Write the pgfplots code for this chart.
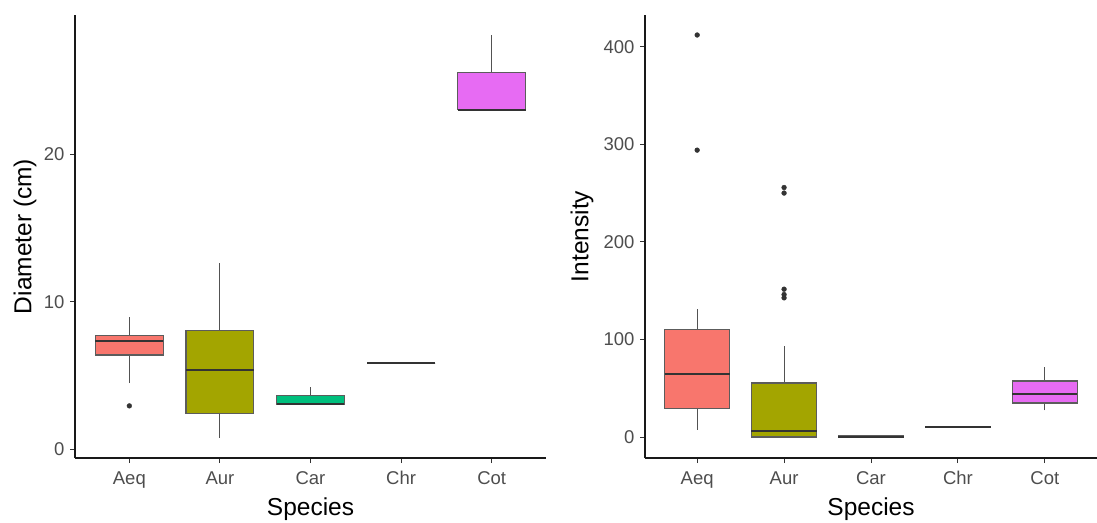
\documentclass[border=0pt]{standalone}
\usepackage{pgfplots}
\pgfplotsset{compat=1.18}
\usepackage{fontspec}
\setmainfont{Liberation Sans}
\definecolor{aeq}{HTML}{F8766D}
\definecolor{aur}{HTML}{A3A500}
\definecolor{car}{HTML}{00BF7D}
\definecolor{chr}{HTML}{00B0F6}
\definecolor{cot}{HTML}{E76BF3}
\definecolor{edge}{HTML}{333333}
\definecolor{ticktext}{HTML}{4D4D4D}
\pgfplotsset{
  ggbox/.style={
    scale only axis,
    anchor=south west,
    axis lines*=left,
    axis line style={line width=1.1pt, black!90, -},
    tick align=outside,
    major tick length=5pt,
    major tick style={line width=1pt, draw=edge},
    xmin=0.4, xmax=5.6,
    xtick={1,2,3,4,5},
    xticklabels={Aeq,Aur,Car,Chr,Cot},
    ticklabel style={font=\fontsize{18.5}{20}\selectfont, text=ticktext},
    xticklabel style={yshift=-5pt},
    yticklabel style={xshift=-2pt},
    /pgf/number format/assume math mode=true,
    xlabel={Species},
    every axis x label/.style={at={(axis description cs:0.5,0)}, anchor=center, yshift=-51pt, font=\fontsize{24.5}{28}\selectfont},
    no markers,
  },
  ylab/.style={every axis y label/.style={at={(axis description cs:0,0.5)}, rotate=90, anchor=center, yshift=#1, font=\fontsize{24.5}{28}\selectfont}},
  whisk/.style={line width=0.9pt, edge!85},
  outl/.style={only marks, mark=*, mark size=2.4pt, mark options={fill=edge, draw=edge}},
}
% \gbox{colour}{left}{centre}{right}{lower whisker}{lower quartile}{median}{upper quartile}{upper whisker}
\newcommand{\gbox}[9]{%
  \addplot[whisk] coordinates {(#3,#5) (#3,#6)};
  \addplot[whisk] coordinates {(#3,#8) (#3,#9)};
  \addplot[fill=#1, draw=edge!80, line width=1.2pt] coordinates {(#2,#6) (#4,#6) (#4,#8) (#2,#8)} -- cycle;
  \addplot[edge, line width=2pt] coordinates {(#2,#7) (#4,#7)};
}
\begin{document}
\begin{tikzpicture}
\useasboundingbox (0,0) rectangle (1097pt,522pt);
\begin{axis}[ggbox,
  at={(75pt,64pt)}, width=471pt, height=443pt,
  ymin=-0.57, ymax=29.43,
  ytick={0,10,20},
  ylabel={Diameter (cm)}, ylab=50pt,
]
\gbox{aeq}{0.625}{1}{1.375}{4.5}{6.4}{7.37}{7.75}{8.97}
\addplot[outl] coordinates {(1,2.96)};
\gbox{aur}{1.625}{2}{2.375}{0.79}{2.44}{5.38}{8.07}{12.66}
\gbox{car}{2.625}{3}{3.375}{3.05}{3.05}{3.12}{3.64}{4.23}
\gbox{chr}{3.625}{4}{4.375}{5.83}{5.83}{5.83}{5.83}{5.83}
\gbox{cot}{4.625}{5}{5.375}{23.03}{23.03}{23.03}{25.56}{28.07}
\end{axis}
\begin{axis}[ggbox,
  at={(645pt,64pt)}, width=452pt, height=443pt,
  ymin=-21.5, ymax=432.5,
  ytick={0,100,200,300,400},
  ylabel={Intensity}, ylab=63pt,
]
\gbox{aeq}{0.625}{1}{1.375}{7.2}{29}{65}{110}{131.6}
\addplot[outl] coordinates {(1,412) (1,294)};
\gbox{aur}{1.625}{2}{2.375}{0}{0}{5.8}{55.4}{93}
\addplot[outl] coordinates {(2,255.7) (2,250) (2,151.5) (2,146) (2,142.6)};
\gbox{car}{2.625}{3}{3.375}{0}{0}{0.4}{1}{2.4}
\gbox{chr}{3.625}{4}{4.375}{10.3}{10.3}{10.3}{10.3}{10.3}
\gbox{cot}{4.625}{5}{5.375}{27.4}{34.9}{43.8}{57.4}{71.8}
\end{axis}
\end{tikzpicture}
\end{document}
